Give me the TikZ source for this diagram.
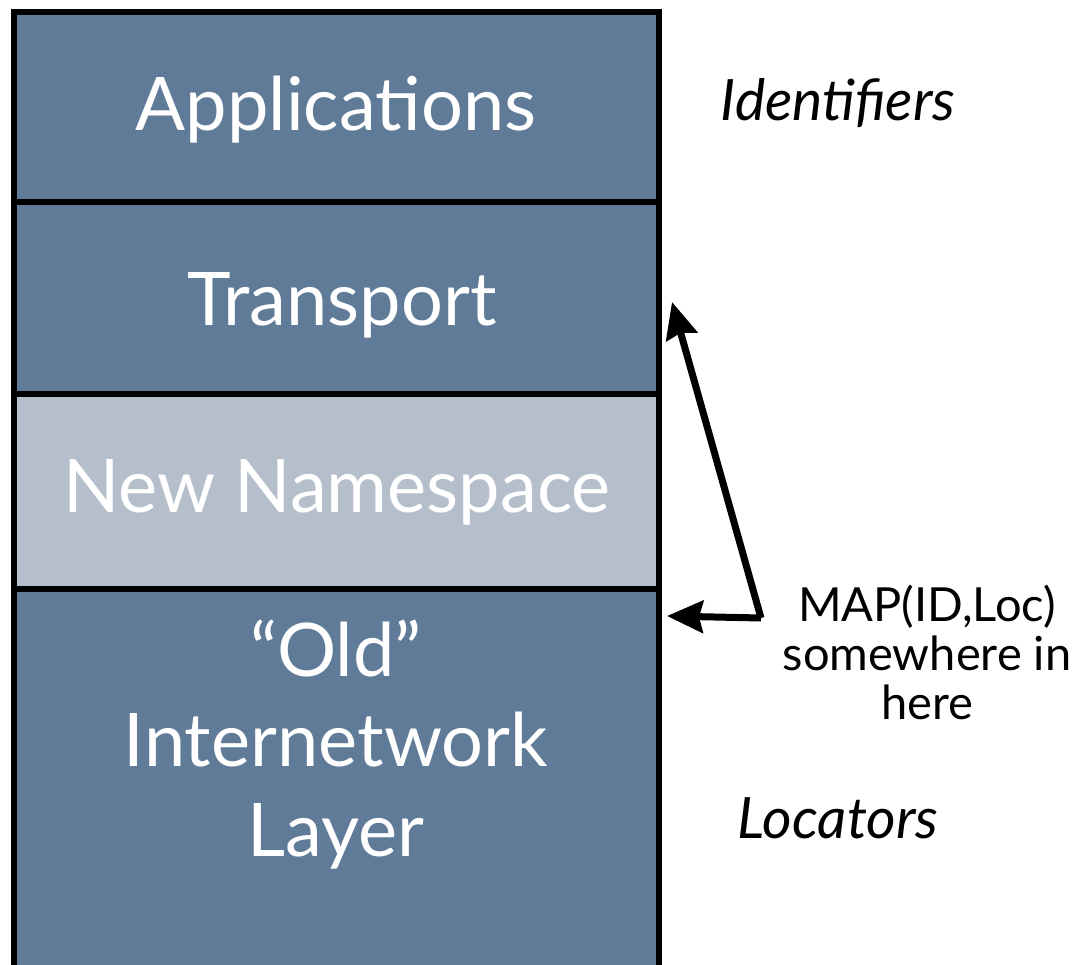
\documentclass[tikz,border=0pt]{standalone}
\usepackage{fontspec}
\setmainfont{Lato}
\usetikzlibrary{arrows.meta}
\definecolor{layerdark}{RGB}{96,123,152}
\definecolor{layerlight}{RGB}{181,191,204}
\tikzset{
  layer/.style={draw=black, line width=6pt},
  laytext/.style={text=white, font=\fontsize{74}{90}\selectfont, align=center},
  side/.style={text=black, font=\itshape\fontsize{57}{60}\selectfont},
  note/.style={text=black, font=\fontsize{47}{49}\selectfont, align=center},
  arr/.style={line width=7pt, -{Stealth[length=36pt,width=32pt,inset=4pt]}, line join=miter}
}
\begin{document}
\begin{tikzpicture}[x=1pt,y=-1pt]
\useasboundingbox (0,0) rectangle (1079,965);
\fill[white] (0,0) rectangle (1079,965);
\begin{scope}
\clip (0,0) rectangle (1079,965);
\filldraw[layer, fill=layerdark] (14,12) rectangle (659,202);
\filldraw[layer, fill=layerdark] (14,202) rectangle (659,394);
\filldraw[layer, fill=layerlight] (14,394) rectangle (659,589);
\filldraw[layer, fill=layerdark] (14,589) rectangle (659,990);
\end{scope}
\node[laytext] (app) at (336,110) {Applications};
\node[laytext] (trans) at (342,305) {Transport};
\node[laytext] (ns) at (337,492) {New Namespace};
\node[laytext] (old) at (336,745) {“Old”\\Internetwork\\Layer};
\node[side] (ids) at (838,103) {Identifiers};
\node[side] (locs) at (838,818) {Locators};
\node[note] (map) at (927,652) {MAP(ID,Loc)\\somewhere in\\here};
\coordinate (corner) at (761,618);
\coordinate (uptip) at (672,302);
\coordinate (lefttip) at (667,616);
\draw[arr] (corner) -- (uptip);
\draw[arr] (corner) -- (lefttip);
\end{tikzpicture}
\end{document}
